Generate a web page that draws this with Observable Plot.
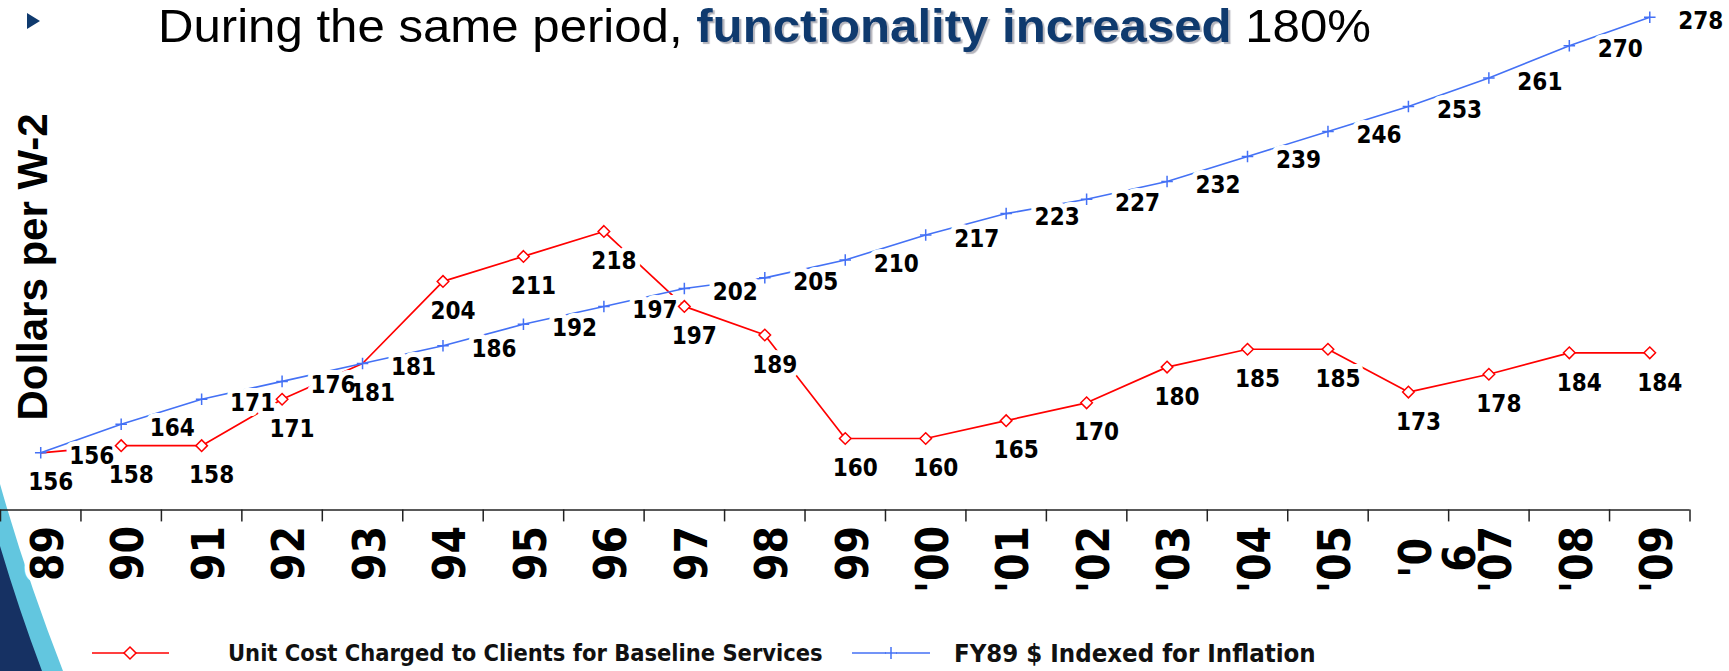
<!DOCTYPE html>
<html><head><meta charset="utf-8">
<script src="https://cdn.jsdelivr.net/npm/d3@7"></script>
<script src="https://cdn.jsdelivr.net/npm/@observablehq/plot@0.6"></script>
<style>
html,body{margin:0;padding:0;background:#fff;}
#wrap{position:relative;width:1729px;height:671px;overflow:hidden;}
#deco{position:absolute;left:0;top:0;z-index:0;}
#chart{position:absolute;left:0;top:0;z-index:1;}
#chart svg{background:transparent !important;overflow:visible;}
#title{position:absolute;left:158px;top:2px;font-family:"Liberation Sans Narrow","Arial Narrow","Liberation Sans",Arial,sans-serif;font-size:47px;line-height:47px;white-space:nowrap;z-index:2;transform-origin:0 0;color:#000;}
#title b{color:#0f3a6e;text-shadow:2px 2px 1px #b4b4bc;}
#bullet{position:absolute;left:27px;top:13px;width:13px;height:16px;background:#0f3a6e;clip-path:polygon(0 0,100% 50%,0 100%);z-index:2;}
.legtxt{position:absolute;top:641px;height:24px;line-height:24px;font-family:"DejaVu Sans Condensed","DejaVu Sans",sans-serif;font-weight:bold;font-size:21px;white-space:nowrap;z-index:2;color:#111;}
.legsw{position:absolute;top:643px;z-index:2;}
</style>
</head><body>
<div id="wrap">
  <svg id="deco" width="1729" height="671">
    <path d="M0,484 Q26,576 63,671 L0,671 Z" fill="#62c6df"/>
    <path d="M0,546 Q19,610 42,671 L0,671 Z" fill="#163163"/>
  </svg>
  <div id="chart"></div>
  <div id="bullet"></div>
  <div id="title">During the same period, <b>functionality increased</b> 180%</div>
  <svg class="legsw" style="left:86px" width="90" height="20">
    <line x1="6" y1="10" x2="83" y2="10" stroke="#ff0000" stroke-width="1.6"/>
    <path d="M44,4 L50,10 L44,16 L38,10 Z" fill="#fff" stroke="#ff0000" stroke-width="1.5"/>
  </svg>
  <div class="legtxt" id="leg1" style="left:228px"></div>
  <svg class="legsw" style="left:846px" width="90" height="20">
    <line x1="6" y1="10" x2="40" y2="10" stroke="#4471f5" stroke-width="1.6"/>
    <line x1="50" y1="10" x2="84" y2="10" stroke="#4471f5" stroke-width="1.6"/>
    <path d="M39,10 H51 M45,4 V16" stroke="#4471f5" stroke-width="1.5"/>
  </svg>
  <div class="legtxt" id="leg2" style="left:954px"></div>
</div>
<script>
// ---- data ----
const yearLabels = ["89","90","91","92","93","94","95","96","97","98","99","'00","'01","'02","'03","'04","'05","'0\n6","'07","'08","'09"];
const unitCost   = [156,158,158,171,181,204,211,218,197,189,160,160,165,170,180,185,185,173,178,184,184];
const inflation  = [156,164,171,176,181,186,192,197,202,205,210,217,223,227,232,239,246,253,261,270,278];
const seriesNames = ["Unit Cost Charged to Clients for Baseline Services", "FY89 $ Indexed for Inflation"];
const yTitle = "Dollars per W-2";
const yDomain = [140, 280];

const rows = yearLabels.map((label, i) => ({i, label, cost: unitCost[i], infl: inflation[i]}));
const boundaries = d3.range(-0.5, yearLabels.length, 1);
const singleLine = rows.filter(d => !d.label.includes("\n"));
const wrapped = rows.filter(d => d.label.includes("\n"));
// where both series coincide the red marker sits hidden under the blue one
const costMarkers = rows.filter(d => d.cost !== d.infl);

const RED = "#ff0000", BLUE = "#4471f5";
const W = 1729, H = 625, mT = 9.6, mR = 39.5, mB = H - 509.4;
const frameH = H - mT - mB;
const labelFont = "'DejaVu Sans Condensed','DejaVu Sans',sans-serif";
const lbl = {fontSize: 24, fontWeight: "bold", fontFamily: labelFont};
const halo = {...lbl, fill: "white", stroke: "white", strokeWidth: 10, strokeLinejoin: "round"};
const tick = {rotate: -90, fontSize: 44, fontWeight: "bold", fontFamily: labelFont, fill: "#000", frameAnchor: "bottom", lineAnchor: "top", lineHeight: 1};

const chart = Plot.plot({
  width: W, height: H,
  marginLeft: 0, marginRight: mR, marginTop: mT, marginBottom: mB,
  x: {type: "linear", domain: [-0.5, yearLabels.length - 0.5], axis: null},
  y: {domain: yDomain, axis: null},
  style: {background: "transparent", overflow: "visible"},
  marks: [
    Plot.ruleY([yDomain[0]], {stroke: "#222", strokeWidth: 1.5}),
    Plot.ruleX(boundaries, {stroke: "#222", strokeWidth: 1.5, insetTop: frameH, insetBottom: -12}),
    Plot.line(rows, {x: "i", y: "cost", stroke: RED, strokeWidth: 1.7}),
    Plot.line(rows, {x: "i", y: "infl", stroke: BLUE, strokeWidth: 1.6}),
    // white label boxes (halos) that interrupt the lines
    Plot.text(rows, {x: "i", y: "infl", text: "infl", dx: 51, dy: 4, ...halo}),
    Plot.text(rows, {x: "i", y: "cost", text: "cost", dx: 10, dy: 30, ...halo}),
    Plot.dot(costMarkers, {x: "i", y: "cost", symbol: "diamond2", r: 5.2, fill: "white", stroke: RED, strokeWidth: 1.5}),
    Plot.dot(rows, {x: "i", y: "infl", symbol: "plus", r: 3.8, stroke: BLUE, strokeWidth: 1.5}),
    Plot.text(rows, {x: "i", y: "infl", text: "infl", dx: 51, dy: 4, ...lbl, fill: "#000"}),
    Plot.text(rows, {x: "i", y: "cost", text: "cost", dx: 10, dy: 30, ...lbl, fill: "#000"}),
    // category labels
    Plot.text(singleLine, {x: "i", text: "label", dy: 16, dx: -9, textAnchor: "end", ...tick,
      stroke: "white", strokeWidth: 10, strokeLinejoin: "round", paintOrder: "stroke"}),
    Plot.text(wrapped, {x: "i", text: "label", dy: 48, dx: -9, textAnchor: "middle", ...tick}),
    Plot.text([yTitle], {frameAnchor: "left", dx: 33, dy: 7, rotate: -90, textAnchor: "middle",
      fontSize: 42, fontWeight: "bold", fontFamily: "'Liberation Sans',Arial,sans-serif", fill: "#000"})
  ]
});
document.getElementById("chart").appendChild(chart);

document.getElementById("leg1").textContent = seriesNames[0];
document.getElementById("leg2").textContent = seriesNames[1];

function fitWidth(el, target, mode) {
  const w = el.getBoundingClientRect().width;
  if (!w) return;
  if (mode === "scale") el.style.transform = `scaleX(${target / w})`;
  else el.style.fontSize = (parseFloat(getComputedStyle(el).fontSize) * target / w) + "px";
}
fitWidth(document.getElementById("title"), 1213, "scale");
fitWidth(document.getElementById("leg1"), 595, "size");
fitWidth(document.getElementById("leg2"), 362, "size");
</script>
</body></html>
